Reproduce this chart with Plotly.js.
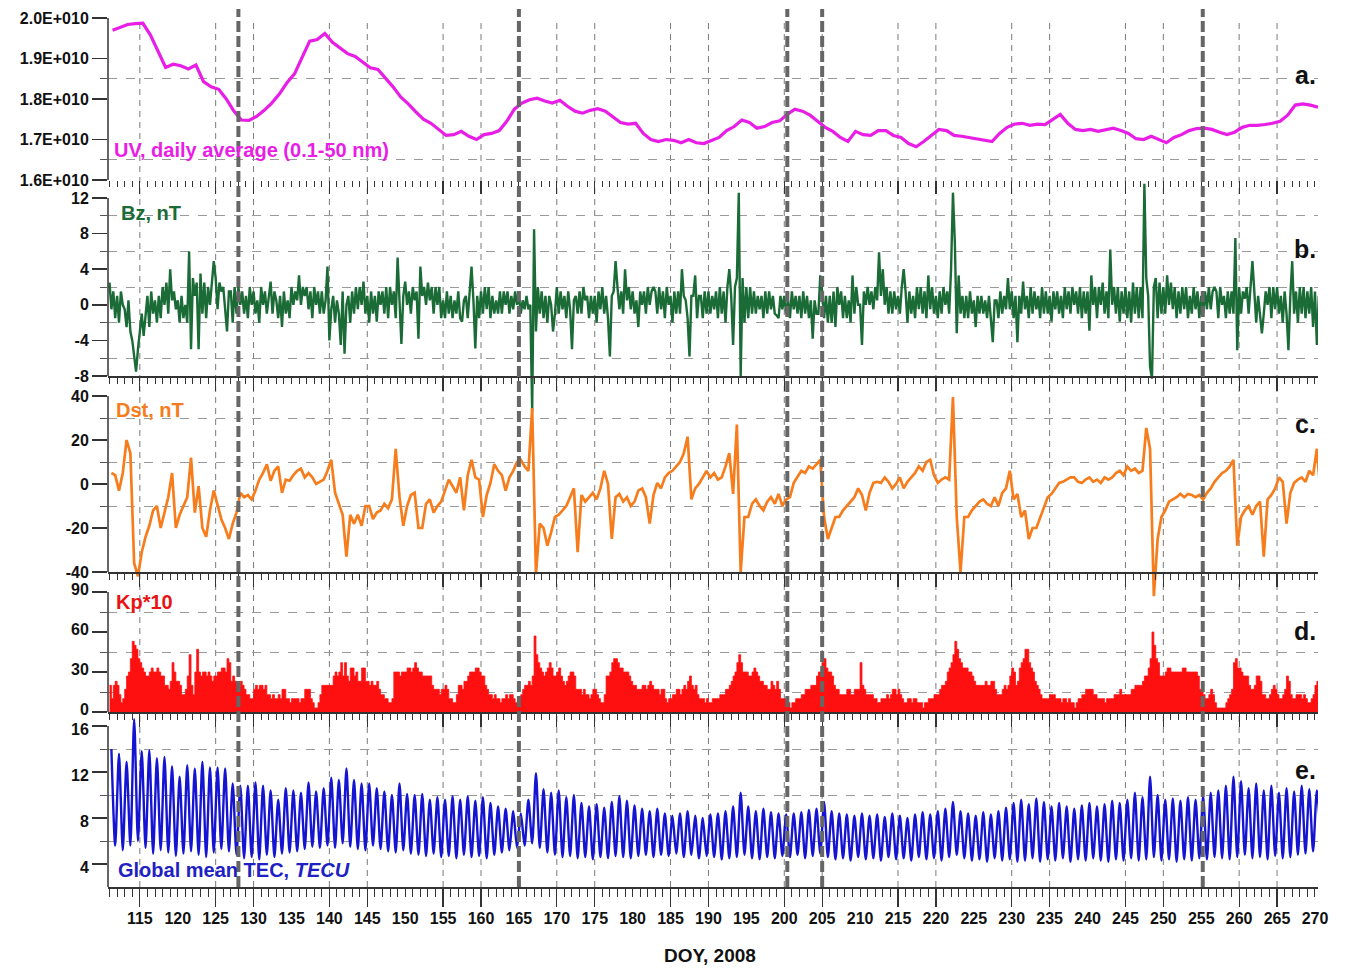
<!DOCTYPE html>
<html><head><meta charset="utf-8">
<script src="https://cdn.plot.ly/plotly-3.0.1.min.js"></script>
<style>html,body{margin:0;padding:0;background:#fff}#chart{width:1348px;height:969px}</style>
</head><body><div id="chart"></div>
<script>
// ---------------- DATA ----------------
const startDay = 111;            // first DOY of every series
// UV daily average, in units of 1E+010 (one value per day, DOY 111..270)
const uvValues = [
1.970,1.978,1.984,1.986,1.987,1.958,1.920,1.878,1.886,1.882,
1.874,1.884,1.843,1.830,1.824,1.800,1.770,1.748,1.747,1.757,
1.772,1.790,1.812,1.840,1.862,1.905,1.943,1.947,1.962,1.940,
1.925,1.912,1.905,1.890,1.877,1.873,1.852,1.830,1.805,1.788,
1.768,1.750,1.740,1.725,1.710,1.712,1.720,1.708,1.700,1.712,
1.715,1.722,1.745,1.775,1.790,1.798,1.802,1.795,1.790,1.797,
1.782,1.770,1.765,1.772,1.776,1.770,1.757,1.742,1.738,1.740,
1.715,1.700,1.695,1.700,1.698,1.692,1.700,1.692,1.690,1.698,
1.705,1.722,1.732,1.748,1.742,1.728,1.732,1.742,1.746,1.762,
1.775,1.770,1.760,1.745,1.730,1.720,1.705,1.695,1.720,1.712,
1.710,1.722,1.722,1.710,1.705,1.690,1.682,1.695,1.710,1.725,
1.722,1.710,1.708,1.705,1.700,1.698,1.695,1.715,1.730,1.738,
1.740,1.735,1.738,1.737,1.750,1.762,1.740,1.725,1.722,1.725,
1.720,1.725,1.728,1.722,1.715,1.702,1.700,1.708,1.700,1.692,
1.705,1.712,1.722,1.727,1.728,1.725,1.718,1.712,1.718,1.730,
1.735,1.735,1.737,1.740,1.745,1.760,1.785,1.788,1.785,1.780];
// Bz, nT : 4 values per day (6-hourly), DOY 111..270
const bzValues = [
2.5,-0.5,1.5,-1.5, 1,-2,1.5,0, -0.5,-2.5,0.5,-3, -4,-6,-7.5,-5, -3,-1,-3.5,-1,
1,-2.5,1.5,-1, 0.5,-2,1,-1.5, 2,0,2.5,-1, 4,0.5,1.5,-0.5, 0.5,-2,1,-1.5,
0,-2,6,-5, 3,1,2.5,-5, 3.5,-1,2.5,-1.5, 2,0,3,4.9, 3,-0.5,2.5,1.5,
2,-1,-3,1.5, 1.5,-2,2,-1, 2,0,1.5,-1, 1,-1.5,2,0, 1.5,-1,0.5,-2,
2,0,1.5,-1, 1,2.6,-1,1.5, 0.5,-1.5,1,-2.5, 1.5,-1,0.5,-1.5, 2,0,1.5,0.5,
3.3,0,2,1, 2,-0.5,1.5,-1.5, 2,0,1.5,-1, 1.5,-1,0.5,4.3, -4,-0.5,1,-2,
0.5,-1,-4.5,1.5, -5.5,0,1,-2, 1.5,-1,2,-0.5, 2,0,2.6,-1, 1,-2,1.5,-1,
1,-1.9,1.5,0, 1.5,-1,2,-1.5, 2,0,1.5,-1.5, 5.3,1,-4.4,1, 2.6,0,1.5,-1,
2,0.5,1.5,-3.8, 4.3,1,2,0, 2.5,0.5,2,-1, 2,0,2,-1.5, 0.5,-1.5,1.5,-1,
1,-1.5,0.5,-1, 1.5,-1.5,-1.9,0.5, 1,-1.5,1.5,4.3, 0.5,-4.9,1,-1.5, 1.5,-1,2,-0.5,
2,-1.5,1,-1, 0.5,-1,1.5,-1, 1.5,0,1.5,-1, 1,-0.5,1.5,0, 1,-1,0.5,-0.5,
1,-0.5,0,-12, 8.5,-3,2,-1, 1.5,-1.5,1,-2, 1,0,-3,-1, 2,-1,1.5,-0.5,
1,-1.5,1.5,-0.5, -5,0.5,1,-1, 1.5,-1,2,0.5, 1,-1.5,1,-1, 1,-2,1.5,-0.5,
2,-1,1,-1.5, -5.8,1,1.5,4.9, 2,-0.5,1.5,-1, 4,0.5,2,-0.5, 1.5,-1,0.5,-2.5,
1.5,0,1.5,-1, 2,0,1.5,2, 1.5,-1,2,-0.5, 1.5,-1.5,2,0, 1,-2,1.5,-1,
1.5,-1,4,1, 0.5,-1.5,-5.8,1, 1,3.3,-1.5,1, 1,-1.5,1.5,-1, 1.5,-1,1,-0.5,
1.5,-1.5,2,-1, 1.5,-2,2,4, 1,-4.5,2,3, 12.6,-8,3,-2, 2,-1.5,2,-1,
1.5,-1,1,-0.5, 1,-1.5,1.5,-1, 1.5,-0.5,1,-1, -1.2,-1.5,1,-0.5, 1,-1,0.5,-1.5,
1.5,-0.5,1,-1, 1,-1.5,1.5,-1, 1,-1.5,0.5,-3.8, 0.5,-1,-1,3.3, 1.5,-1.5,1,-2,
1,-2,1.5,-2.5, 2,0,1.5,-1.5, 1,-1.5,0.5,-2, 3.3,-1,2,0, 0,-4.5,1.5,0,
2,0,1.5,-0.5, 2,0.5,5.9,1, 4,0,2,-1, 1.5,-1,1.5,-0.5, 1,-1,2,4,
1.5,-2,1.5,-1, 1,-1.5,2,-0.5, 2,-1,1.5,-1.5, 3.3,-0.5,2,-1, 1,-1.5,1.5,-1,
2,0,1.5,-1, 4,12.6,7,-3.2, 3.3,-1,1,-1.5, 1,-1.5,1.5,-1, 0.5,-2.5,1,-1,
1,-1,0.5,-1.5, 1,-1.5,-4.2,0.5, 0.5,-1.5,1.5,-1, 1,-0.5,3,-0.5, 1.5,-1.5,1,-4.2,
1,-1,2.6,-0.5, 1,-1.5,2,-1, 1.5,-0.5,1,-1.5, 2,-1,1.5,-1, 1,-1.9,1.5,-0.5,
1.5,-1,1,-1.5, 2,-0.5,1.5,-1, 2,0,1.5,-1, 2,-1.5,1.5,-1, 1.5,-2.9,3.3,0,
2,-1.5,2,0, 2.5,-1,1.5,-1.5, 6.2,0,2,-1, 2,-1.9,1.5,-1, 2,-1.5,1.5,-2,
2.5,-1,2,-1.5, 2,-1.5,13.6,3, 1,-7,-8.3,2, 3,-1.5,2.5,-1, 2,-1,3.3,0,
2.5,-0.5,2,-1.5, 1.5,-1,2,-0.5, 2,-1.5,1,-1, 2,-0.5,1.5,-1.5, 1,-1,1.5,-0.5,
2,-0.5,1.5,2, 1.5,-1.5,2,0, 1,-1.5,1.5,-1, 1.5,-1,7.5,-5.1, 2,-1,1.5,0.7,
2,-1,1.5,4.9, 1.5,-2,1,-1.5, -3.2,-1,1.5,0, 2,-1.5,2,-0.5, 2,-1,1,-2,
1.5,-1,-5.1,1, 4.9,-1,1.5,-2, 2,-1,2,-1.5, 1.5,-1,2,-2.5, 1.5,-4.5,1,-2];
// Dst, nT : 2 values per day (12-hourly), DOY 111..270
const dstValues = [
5,4, -3,5, 20,14, -36,-42, -31,-24, -19,-12, -10,-20, -13,-6, 5,-20, -14,-10,
-6,12, -13,-1, -20,-24, -12,-3, -10,-16, -20,-25, -18,-13, -4,-6, -5,-7, -3,2,
5,9, 1.5,6, 8,-4, 2,1.5, 4,6, 7,3, 5,3, 0,1, 2,6, 11,-4,
-9,-14, -33,-14, -18,-14, -19,-10, -10,-16, -13,-12, -9,-11, -7,16, -6,-19, -10,-5,
-4,-20, -20,-9, -7,-13, -10,-8, -3,2, -1,-4, 3,-12, 4,11, 3,2, -15,-5,
0.5,9, 6,4, -3,3, 6,10, 11,8, 6,34.5, -41,-18, -20,-28, -22,-15, -14,-12,
-10,-6, -2,-31, -5,-8, -6,-4, -7,-2, 6,0, -25,-6, -4.5,-8, -6,-10, -8,-3,
-2,-6, -18,-5, 0.5,-2, 3,5, 6,8, 10,14, 21.5,-7, -2,0, 3,6, 3,5,
2,3, 8,14, -4.5,27, -40,-15, -15,-9, -7,-10, -12,-8, -6,-9, -4.5,-10, -7,-6,
0.5,3, 6,5, 8,7, 9,11, -15,-25, -20,-15, -15,-12, -10,-8, -6,-2, -5,-12,
-4,0.5, 1,0.5, 3,1, -2,0, 3,-2, 1,3, 5,8, 6,10, 11,4, 0.5,2,
3,2, 39.5,-15, -40,-15, -15,-12, -10,-8, -7,-9, -10,-6, -10,-4, -2,6, -7,-4.5,
-15,-12, -25,-20, -20,-15, -10,-6, -4.5,-2, 0.5,1, 2,3, 3,1, 0.5,2, 3,1,
2,0.5, 3,2, 3,5, 6,4, 8,6, 7,5, 6,25.5, 16,-51, -25,-15, -12,-8,
-7,-6, -4.5,-6, -4.5,-5, -6,-5, -7,-4, -2,1, 3,5, 6,8, 11,-28, -15,-12,
-10,-14, -10,-8, -33,-7, -5,-2, 3,1, -18,-4, 0.5,2, 3,1, 6,4, 16,-4.5];
// Kp*10 : 4 values per day (6-hourly), DOY 111..270
const kpValues = [
20,10,20,23, 20,13,7,10, 17,27,30,40, 53,50,47,40, 37,33,30,27,
27,30,33,30, 30,33,30,27, 27,20,20,17, 23,37,30,23, 23,20,13,13,
17,27,43,20, 13,30,47,30, 27,30,30,27, 30,27,23,27, 27,30,30,33,
33,30,40,37, 23,27,23,20, 20,23,20,17, 13,13,10,10, 17,20,17,20,
20,17,20,13, 13,10,13,10, 10,13,10,17, 17,10,10,7, 10,10,10,10,
7,10,10,17, 17,17,10,7, 3,3,7,13, 20,20,20,20, 20,20,27,30,
27,30,37,27, 37,27,23,33, 33,27,30,23, 23,33,33,23, 23,20,23,20,
20,23,17,13, 13,10,10,7, 7,10,30,30, 30,27,30,30, 30,33,33,30,
33,37,33,30, 30,27,27,27, 27,27,20,17, 17,17,13,17, 17,20,17,10,
10,7,7,13, 20,20,17,23, 23,27,30,30, 30,33,33,30, 27,27,20,17,
13,13,10,13, 10,10,7,10, 10,13,10,13, 13,10,7,7, 10,13,17,20,
20,23,20,27, 57,43,37,33, 30,27,30,33, 37,33,27,27, 30,33,27,23,
20,23,27,30, 30,27,17,17, 17,13,17,13, 13,10,13,17, 17,13,10,7,
7,13,27,27, 30,37,40,40, 37,33,33,30, 30,30,27,23, 20,20,17,17,
17,20,20,17, 20,23,20,17, 17,17,13,17, 17,10,7,10, 10,13,13,17,
17,13,17,20, 17,23,27,20, 17,20,13,10, 10,10,7,10, 7,7,10,10,
10,10,13,13, 13,17,17,20, 23,27,30,37, 43,37,30,30, 30,27,27,30,
33,30,27,23, 23,20,20,17, 17,23,20,17, 23,17,10,10, 10,7,7,3,
7,7,10,10, 10,13,13,17, 17,17,20,20, 20,27,30,30, 37,40,33,30,
30,27,20,17, 17,13,13,13, 13,17,17,13, 13,17,17,17, 37,20,17,13,
13,13,13,10, 10,7,7,10, 10,10,13,10, 13,17,17,13, 17,13,10,7,
7,10,10,7, 10,10,7,7, 7,3,7,7, 10,10,10,13, 13,13,17,20,
20,23,30,33, 37,43,53,47, 40,37,33,33, 33,30,30,27, 23,20,20,20,
20,20,23,20, 20,23,23,17, 13,13,13,17, 20,17,20,27, 33,30,20,23,
33,37,40,47, 47,37,33,30, 23,20,17,13, 10,10,10,10, 13,13,13,10,
10,10,7,10, 10,7,10,7, 7,3,7,10, 10,13,13,17, 17,17,17,13,
13,10,10,10, 10,7,10,10, 10,10,13,13, 13,17,13,13, 13,13,13,17,
17,20,20,20, 20,23,27,27, 33,40,60,50, 40,37,27,27, 27,30,33,33,
30,30,30,30, 30,30,33,33, 30,30,30,30, 30,30,27,17, 17,13,10,10,
13,17,13,7, 3,3,3,3, 3,7,10,13, 17,37,40,33, 33,30,27,27,
27,20,17,17, 20,27,27,23, 13,13,10,10, 13,17,20,17, 13,10,10,13,
17,27,23,13, 10,10,13,13, 13,10,13,10, 7,7,10,13, 20,23,20,20];
// Global mean TEC, TECU : daily maximum and daily minimum, DOY 111..270
const tecMax = [
14.0,13.6,12.9,16.6,13.8,13.9,13.2,13.3,12.5,11.6,
12.6,12.3,12.9,12.4,12.4,12.3,11.0,10.8,10.8,11.1,
10.8,10.4,9.6,10.6,10.4,10.2,11.1,10.3,10.6,11.5,
11.3,12.3,11.3,11.0,11.0,10.6,10.3,10.0,11.0,10.1,
10.0,10.1,9.6,9.8,9.6,9.9,9.6,9.9,9.5,9.8,
9.3,9.0,8.8,8.6,8.4,9.6,11.9,10.5,10.2,10.4,
9.8,10.0,9.3,9.0,9.2,8.9,9.4,9.9,9.5,9.1,
8.8,8.6,8.8,8.4,8.2,8.4,8.6,8.2,8.0,8.3,
8.4,8.6,9.0,10.2,9.0,8.6,8.8,8.5,8.4,8.3,
8.4,8.5,8.7,8.8,9.4,8.6,8.4,8.3,8.2,8.4,
8.2,8.3,8.1,8.4,8.2,8.0,8.3,8.5,8.3,8.6,
8.8,9.4,8.6,8.4,8.2,8.5,8.3,8.6,8.9,9.3,
9.6,9.2,9.7,9.4,9.0,9.3,9.0,8.8,9.1,9.3,
9.0,9.2,9.5,9.3,9.6,10.2,9.8,11.6,10.0,9.6,
9.7,9.5,9.8,9.6,9.9,10.2,10.4,10.8,11.6,11.2,
10.6,11.0,10.4,10.8,10.2,10.6,10.3,10.8,10.5,10.4];
const tecMin = [
5.6,5.2,5.6,6.0,5.4,4.9,5.2,5.0,4.7,4.9,
5.1,4.8,4.6,5.0,5.3,5.1,4.8,4.5,4.6,4.4,
4.8,4.6,4.9,5.0,5.1,5.3,5.5,5.4,5.6,5.4,
5.8,5.5,5.3,5.2,5.6,5.3,5.1,5.0,5.2,4.9,
4.8,4.7,4.9,4.6,4.7,4.5,4.8,4.6,4.7,4.5,
4.8,5.0,5.2,5.4,5.6,5.8,5.4,5.0,4.8,4.6,
4.7,4.5,4.6,4.4,4.6,4.5,4.7,4.6,4.5,4.7,
4.8,4.6,4.8,4.7,4.9,4.6,4.8,4.5,4.7,4.6,
4.4,4.5,4.6,4.8,4.5,4.4,4.6,4.5,4.7,4.6,
4.8,4.5,4.7,4.9,4.6,4.4,4.5,4.3,4.6,4.4,
4.5,4.3,4.6,4.4,4.5,4.3,4.6,4.4,4.5,4.3,
4.6,4.8,4.5,4.3,4.4,4.2,4.5,4.3,4.4,4.2,
4.3,4.5,4.2,4.4,4.3,4.5,4.2,4.4,4.3,4.5,
4.3,4.2,4.4,4.3,4.5,4.3,4.4,4.6,4.3,4.4,
4.2,4.4,4.3,4.5,4.4,4.6,4.5,4.4,4.6,4.8,
4.5,4.6,4.4,4.7,4.5,4.6,4.8,4.9,5.1,6.5];
// axis furniture
const gridDays = [115,125,130,140,145,155,160,170,175,185,190,200,205,215,220,230,235,245,250,260,265];
const labelDays = [115,120,125,130,135,140,145,150,155,160,165,170,175,180,185,190,195,200,205,210,215,220,225,230,235,240,245,250,255,260,265,270];
const eventDays = [128,165,200.4,205,255.2];
const uvTicks = [1.6,1.7,1.8,1.9,2.0];
const uvTickText = ['1.6E+010','1.7E+010','1.8E+010','1.9E+010','2.0E+010'];
const bzTicks = [-8,-4,0,4,8,12];
const dstTicks = [-40,-20,0,20,40];
const kpTicks = [0,30,60,90];
const tecTicks = [4,8,12,16];
const uvGrid = [1.65,1.85];
const bzGrid = [-6,-2,2,6,10];
const dstGrid = [-10,10,30];
const kpGrid = [15,45,75];
const tecGrid = [6,10,14];

// ---------------- BUILD ----------------
const uvX = uvValues.map((v,i)=>startDay+i+0.4);
const bzX = bzValues.map((v,i)=>startDay+i/4);
const dstX = dstValues.map((v,i)=>startDay+i/2+0.25);
const kpX = kpValues.map((v,i)=>startDay+i/4);
const tecX = [], tecY = [];
tecMax.forEach((v,i)=>{ tecX.push(startDay+i+0.25); tecY.push(v); tecX.push(startDay+i+0.75); tecY.push(tecMin[i]); });

const C = {uv:'#e81ee6', bz:'#1b6b36', dst:'#f67c1c', kp:'#ff1010', tec:'#1414d2', axis:'#333333'};
const FONT = 'Liberation Sans, Arial, Helvetica, sans-serif';
const xRange = [110.8, 270.4];
const txt = a => a.map(v => String(v));   // plain hyphen-minus labels like the reference

const traces = [
 {x:uvX, y:uvValues, xaxis:'x', yaxis:'y', mode:'lines', line:{color:C.uv, width:3.2}, hoverinfo:'skip'},
 {x:bzX, y:bzValues, xaxis:'x2', yaxis:'y2', mode:'lines', line:{color:C.bz, width:2.4}, hoverinfo:'skip'},
 {x:dstX, y:dstValues, xaxis:'x3', yaxis:'y3', mode:'lines', line:{color:C.dst, width:2.7}, hoverinfo:'skip'},
 {x:kpX, y:kpValues, xaxis:'x4', yaxis:'y4', mode:'lines', fill:'tozeroy', fillcolor:C.kp, line:{color:C.kp, width:0.8, shape:'hv'}, hoverinfo:'skip'},
 {x:tecX, y:tecY, xaxis:'x5', yaxis:'y5', mode:'lines', line:{color:C.tec, width:2.4, shape:'spline', smoothing:0.7}, hoverinfo:'skip'},
 // empty trace that only registers the label axis (x6) overlaying the bottom panel
 {x:[], y:[], xaxis:'x6', yaxis:'y5', mode:'lines', hoverinfo:'skip'}
];

function xAx(extra){
  return Object.assign({range:xRange, domain:[0,1], tickmode:'array', tickvals:gridDays, showticklabels:false,
    ticks:'outside', ticklen:13, tickwidth:1.3, tickcolor:C.axis, showgrid:false, zeroline:false,
    showline:true, linecolor:C.axis, linewidth:1.5, fixedrange:true,
    minor:{dtick:1, tick0:startDay, ticks:'outside', ticklen:6, tickwidth:1, tickcolor:C.axis, showgrid:false}}, extra);
}
function yAx(extra, grid){
  return Object.assign({tickmode:'array', ticks:'outside', ticklen:15, tickwidth:1.5, tickcolor:C.axis,
    showgrid:false, zeroline:false, showline:false, fixedrange:true,
    tickfont:{family:FONT, size:16, weight:'bold', color:'#111'},
    minor:{tickmode:'array', tickvals:grid, ticks:'outside', ticklen:7, tickwidth:1, tickcolor:'#555',
      showgrid:true, gridcolor:'#9a9a9a', gridwidth:1, griddash:'dash'}}, extra);
}
// pixel helpers for the paper frame (plot area: top 8px, bottom 887px)
const paperY = p => (887-p)/879;
const paperX = p => (p-108)/1210;

const shapes = [];
gridDays.forEach(d=>shapes.push({type:'line', xref:'x5', yref:'paper', x0:d, x1:d, y0:0, y1:paperY(22), layer:'below',
  line:{color:'#7a7a7a', width:1, dash:'6px,5px'}}));
[['y',uvTicks],['y2',bzTicks],['y3',dstTicks],['y4',kpTicks],['y5',[2,16]]].forEach(([ax,t])=>{
  shapes.push({type:'line', xref:'paper', yref:ax, x0:0, x1:0, y0:t[0], y1:t[t.length-1], line:{color:C.axis, width:1.5}});
});
eventDays.forEach(d=>shapes.push({type:'line', xref:'x5', yref:'paper', x0:d, x1:d, y0:0, y1:paperY(9), layer:'above',
  line:{color:'#666666', width:4, dash:'11px,4px'}}));

const lab = (text, px, py, color, size, xanchor) => ({text, x:paperX(px), y:paperY(py), xref:'paper', yref:'paper',
  xanchor:xanchor||'left', yanchor:'middle', showarrow:false, font:{family:FONT, size:size||20, weight:'bold', color}});
const annotations = [
  lab('UV, daily average (0.1-50 nm)', 112, 150, C.uv),
  lab('Bz, nT', 119, 213, C.bz),
  lab('Dst, nT', 114, 410, C.dst),
  lab('Kp*10', 114, 602, '#e81414'),
  lab('Global mean TEC, <i>TECU</i>', 116, 870, '#1f1fc4'),
  lab('a.', 1305, 75, '#111', 25, 'center'),
  lab('b.', 1305, 249, '#111', 25, 'center'),
  lab('c.', 1305, 424, '#111', 25, 'center'),
  lab('d.', 1305, 631, '#111', 25, 'center'),
  lab('e.', 1305, 770, '#111', 25, 'center'),
  lab('DOY, 2008', 710, 955, '#111', 19, 'center')
];

const layout = {
  width:1348, height:969, margin:{l:108, r:30, t:8, b:82},
  paper_bgcolor:'#ffffff', plot_bgcolor:'rgba(0,0,0,0)', showlegend:false,
  font:{family:FONT, color:'#111'},
  xaxis: xAx({anchor:'y', showline:false}),
  xaxis2: xAx({anchor:'free', position:paperY(376)}),
  xaxis3: xAx({anchor:'free', position:paperY(572)}),
  xaxis4: xAx({anchor:'y4'}),
  xaxis5: xAx({anchor:'y5', ticklen:18, minor:{dtick:1, tick0:startDay, ticks:'outside', ticklen:8, tickwidth:1, tickcolor:C.axis, showgrid:false}}),
  xaxis6: {overlaying:'x5', anchor:'y5', range:xRange, tickmode:'array', tickvals:labelDays, ticktext:txt(labelDays),
    ticks:'outside', ticklen:17, tickcolor:'rgba(0,0,0,0)', showgrid:false, showline:false, zeroline:false, fixedrange:true,
    tickfont:{family:FONT, size:16, weight:'bold', color:'#111'}},
  yaxis: yAx({anchor:'x', domain:[paperY(180), paperY(18)], range:[1.6,2.0], tickvals:uvTicks, ticktext:uvTickText}, uvGrid),
  yaxis2: yAx({anchor:'x2', domain:[paperY(376+4.5*8.9), paperY(198-2*8.9)], range:[-12.5,14], tickvals:bzTicks, ticktext:txt(bzTicks)}, bzGrid),
  yaxis3: yAx({anchor:'x3', domain:[paperY(572+14*2.2), paperY(396-2*2.2)], range:[-54,42], tickvals:dstTicks, ticktext:txt(dstTicks)}, dstGrid),
  yaxis4: yAx({anchor:'x4', domain:[paperY(712), paperY(592)], range:[0,90], tickvals:kpTicks, ticktext:txt(kpTicks), ticklabelshift:-3}, kpGrid),
  yaxis5: yAx({anchor:'x5', domain:[0, paperY(887-14.8*11.5)], range:[2,16.8], tickvals:tecTicks, ticktext:txt(tecTicks), ticklabelshift:3}, tecGrid),
  shapes, annotations
};
Plotly.newPlot('chart', traces, layout, {displayModeBar:false, staticPlot:true});
</script>
</body></html>
